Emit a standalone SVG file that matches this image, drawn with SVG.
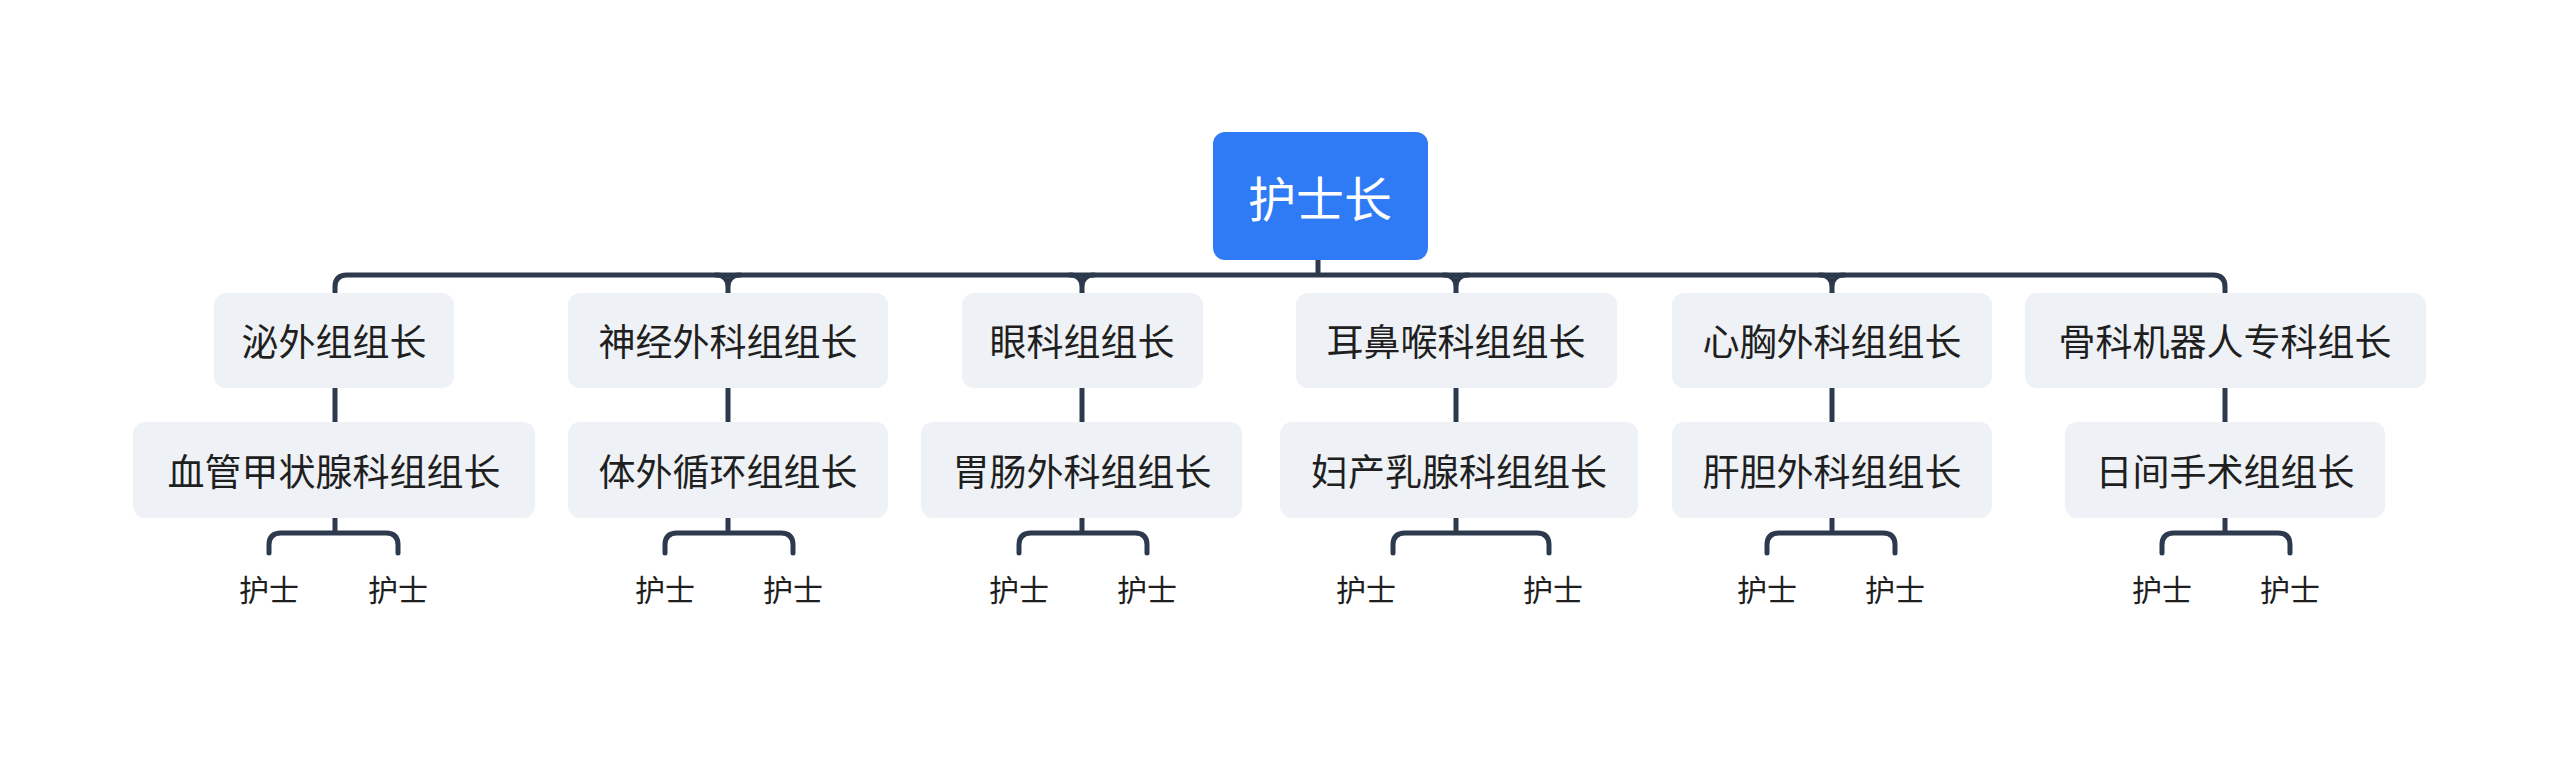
<svg xmlns="http://www.w3.org/2000/svg" width="2560" height="757" viewBox="0 0 2560 757">
<style>
.b{fill:#eef1f5}
.t{font-family:"Noto Sans CJK SC","Noto Sans",sans-serif;font-size:37px;fill:#1f1f1f;text-anchor:middle;dominant-baseline:central}
.n{font-size:30px}
.c{fill:none;stroke:#2d3a4d;stroke-width:5;stroke-linecap:round}
</style>
<rect width="2560" height="757" fill="#fff"/>
<g id="connectors" class="c">
<path d="M1318 260V275M335 293V287Q335 275 347 275H2213Q2225 275 2225 287V293"/>
<path d="M716 275Q728 275 728 287V293M740 275Q728 275 728 287"/>
<path d="M1070 275Q1082 275 1082 287V293M1094 275Q1082 275 1082 287"/>
<path d="M1444 275Q1456 275 1456 287V293M1468 275Q1456 275 1456 287"/>
<path d="M1820 275Q1832 275 1832 287V293M1844 275Q1832 275 1832 287"/>
<path d="M335 388V422M728 388V422M1082 388V422M1456 388V422M1832 388V422M2225 388V422"/>
<path d="M335 518V533M269 553V545Q269 533 281 533H386Q398 533 398 545V553"/>
<path d="M728 518V533M665 553V545Q665 533 677 533H781Q793 533 793 545V553"/>
<path d="M1082 518V533M1019 553V545Q1019 533 1031 533H1135Q1147 533 1147 545V553"/>
<path d="M1456 518V533M1393 553V545Q1393 533 1405 533H1537Q1549 533 1549 545V553"/>
<path d="M1832 518V533M1767 553V545Q1767 533 1779 533H1883Q1895 533 1895 545V553"/>
<path d="M2225 518V533M2162 553V545Q2162 533 2174 533H2278Q2290 533 2290 545V553"/>
</g>
<g id="root"><rect x="1213" y="132" width="215" height="128" rx="12" fill="#2f7bf5"/><text class="t" x="1320" y="196" style="font-size:48px;fill:#fff">护士长</text></g>
<g id="l1a"><rect class="b" x="214" y="293" width="240" height="95" rx="12"/><text class="t" x="334" y="340">泌外组组长</text></g>
<g id="l1b"><rect class="b" x="568" y="293" width="320" height="95" rx="12"/><text class="t" x="728" y="340">神经外科组组长</text></g>
<g id="l1c"><rect class="b" x="962" y="293" width="241" height="95" rx="12"/><text class="t" x="1082" y="340">眼科组组长</text></g>
<g id="l1d"><rect class="b" x="1296" y="293" width="321" height="95" rx="12"/><text class="t" x="1456" y="340">耳鼻喉科组组长</text></g>
<g id="l1e"><rect class="b" x="1672" y="293" width="320" height="95" rx="12"/><text class="t" x="1832" y="340">心胸外科组组长</text></g>
<g id="l1f"><rect class="b" x="2025" y="293" width="401" height="95" rx="12"/><text class="t" x="2225" y="340">骨科机器人专科组长</text></g>
<g id="l2a"><rect class="b" x="133" y="422" width="402" height="96" rx="12"/><text class="t" x="334" y="470">血管甲状腺科组组长</text></g>
<g id="l2b"><rect class="b" x="568" y="422" width="320" height="96" rx="12"/><text class="t" x="728" y="470">体外循环组组长</text></g>
<g id="l2c"><rect class="b" x="921" y="422" width="321" height="96" rx="12"/><text class="t" x="1082" y="470">胃肠外科组组长</text></g>
<g id="l2d"><rect class="b" x="1280" y="422" width="358" height="96" rx="12"/><text class="t" x="1459" y="470">妇产乳腺科组组长</text></g>
<g id="l2e"><rect class="b" x="1672" y="422" width="320" height="96" rx="12"/><text class="t" x="1832" y="470">肝胆外科组组长</text></g>
<g id="l2f"><rect class="b" x="2065" y="422" width="320" height="96" rx="12"/><text class="t" x="2225" y="470">日间手术组组长</text></g>
<g id="nurses">
<text class="t n" x="269" y="588">护士</text><text class="t n" x="398" y="588">护士</text>
<text class="t n" x="665" y="588">护士</text><text class="t n" x="793" y="588">护士</text>
<text class="t n" x="1019" y="588">护士</text><text class="t n" x="1147" y="588">护士</text>
<text class="t n" x="1366" y="588">护士</text><text class="t n" x="1553" y="588">护士</text>
<text class="t n" x="1767" y="588">护士</text><text class="t n" x="1895" y="588">护士</text>
<text class="t n" x="2162" y="588">护士</text><text class="t n" x="2290" y="588">护士</text>
</g>
</svg>
